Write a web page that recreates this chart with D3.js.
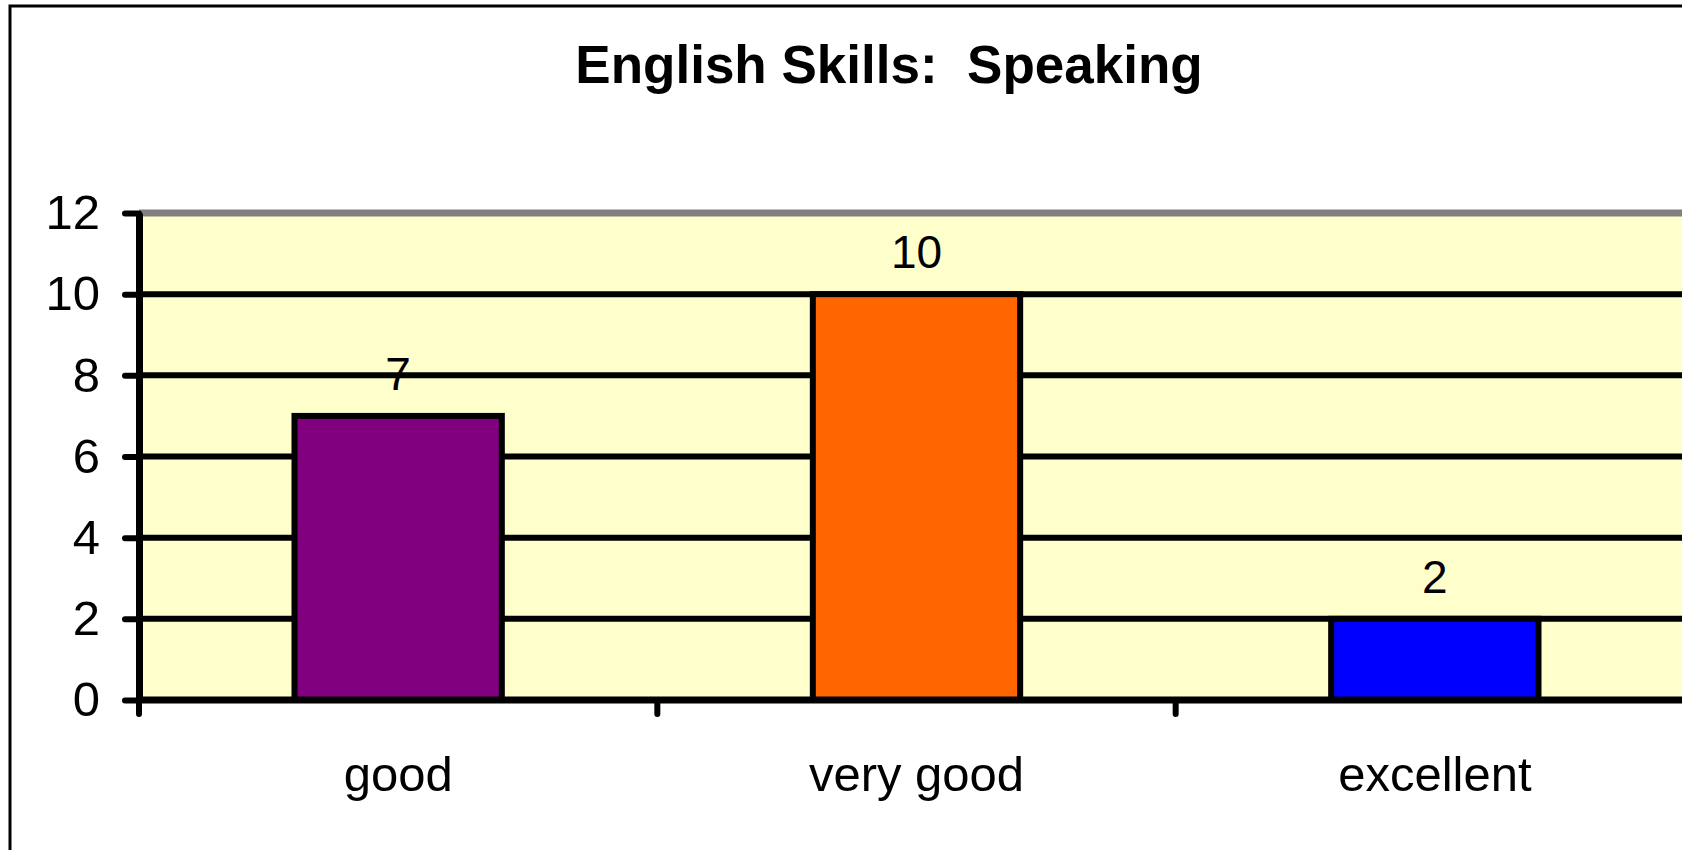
<!DOCTYPE html>
<html>
<head>
<meta charset="utf-8">
<script src="https://cdn.jsdelivr.net/npm/d3@7"></script>
<style>
  body { margin: 0; background: #fff; }
  svg { display: block; font-family: "Liberation Sans", Arial, sans-serif; }
</style>
</head>
<body>
<div id="chart"></div>
<script>
const categories = ["good", "very good", "excellent"];
const values = [7, 10, 2];
const barColors = ["#800080", "#FF6600", "#0000FF"];
const yTicks = [0, 2, 4, 6, 8, 10, 12];
const chartTitle = "English Skills:  Speaking";

const W = 1682, H = 850;
const margin = { top: 213, right: -12, bottom: 150, left: 139 };
const width = W - margin.left - margin.right;
const height = H - margin.top - margin.bottom;

const svg = d3.select("#chart")
    .append("svg")
    .attr("width", W)
    .attr("height", H);

// outer frame
svg.append("rect")
    .attr("x", 10).attr("y", 6)
    .attr("width", W + 20).attr("height", H + 20)
    .attr("fill", "none")
    .attr("stroke", "#000")
    .attr("stroke-width", 3);

svg.append("text")
    .attr("x", 889)
    .attr("y", 83)
    .attr("text-anchor", "middle")
    .attr("font-weight", "bold")
    .attr("font-size", 53)
    .style("white-space", "pre")
    .text(chartTitle);

const g = svg.append("g")
    .attr("transform", `translate(${margin.left},${margin.top})`);

const x = d3.scaleBand()
    .domain(categories)
    .range([0, width])
    .paddingInner(0.6)
    .paddingOuter(0.3);

const y = d3.scaleLinear()
    .domain([0, 12])
    .range([height, 0]);

// plot background
g.append("rect")
    .attr("x", 0).attr("y", 0)
    .attr("width", width + 40)
    .attr("height", height)
    .attr("fill", "#FFFFCC");

// grey top edge
g.append("line")
    .attr("x1", 0).attr("x2", width + 40)
    .attr("y1", y(12)).attr("y2", y(12))
    .attr("stroke", "#808080")
    .attr("stroke-width", 7);

// gridlines
g.selectAll(".grid")
    .data(yTicks.filter(d => d > 0 && d < 12))
    .join("line")
    .attr("class", "grid")
    .attr("x1", 0).attr("x2", width + 40)
    .attr("y1", d => y(d)).attr("y2", d => y(d))
    .attr("stroke", "#000")
    .attr("stroke-width", 6);

// bars
const bw = x.bandwidth();
g.selectAll(".bar")
    .data(values)
    .join("rect")
    .attr("class", "bar")
    .attr("x", (d, i) => x(categories[i]))
    .attr("y", d => y(d))
    .attr("width", bw)
    .attr("height", d => y(0) - y(d))
    .attr("fill", (d, i) => barColors[i])
    .attr("stroke", "#000")
    .attr("stroke-width", 6);

g.selectAll(".val")
    .data(values)
    .join("text")
    .attr("class", "val")
    .attr("x", (d, i) => x(categories[i]) + bw / 2)
    .attr("y", d => y(d) - 26)
    .attr("text-anchor", "middle")
    .attr("font-size", 46)
    .text(d => d);

// y axis
const yAxis = g.append("g")
    .call(d3.axisLeft(y).tickValues(yTicks).tickSize(14).tickPadding(25).tickSizeOuter(0));
yAxis.select(".domain").attr("stroke-width", 7).attr("stroke", "#000");
yAxis.selectAll(".tick line").attr("stroke-width", 6).attr("stroke-linecap", "round");
yAxis.selectAll(".tick text")
    .attr("font-size", 49)
    .attr("font-family", "Liberation Sans, Arial, sans-serif")
    .attr("fill", "#000");

// x axis: ticks at category boundaries
const step = x.step();
const bounds = categories.map((c, i) => x(c) - x.paddingInner() * step / 2).slice(1);
g.append("line")
    .attr("x1", 0).attr("x2", width + 40)
    .attr("y1", y(0)).attr("y2", y(0))
    .attr("stroke", "#000")
    .attr("stroke-width", 7);
g.append("line")
    .attr("x1", 0).attr("x2", 0)
    .attr("y1", y(0)).attr("y2", y(0) + 14)
    .attr("stroke", "#000")
    .attr("stroke-width", 6)
    .attr("stroke-linecap", "round");
g.selectAll(".xtick")
    .data(bounds)
    .join("line")
    .attr("class", "xtick")
    .attr("x1", d => d).attr("x2", d => d)
    .attr("y1", y(0)).attr("y2", y(0) + 14)
    .attr("stroke", "#000")
    .attr("stroke-width", 6)
    .attr("stroke-linecap", "round");

g.selectAll(".xlabel")
    .data(categories)
    .join("text")
    .attr("class", "xlabel")
    .attr("x", d => x(d) + bw / 2)
    .attr("y", y(0) + 91)
    .attr("text-anchor", "middle")
    .attr("font-size", 49)
    .text(d => d);
</script>
</body>
</html>
